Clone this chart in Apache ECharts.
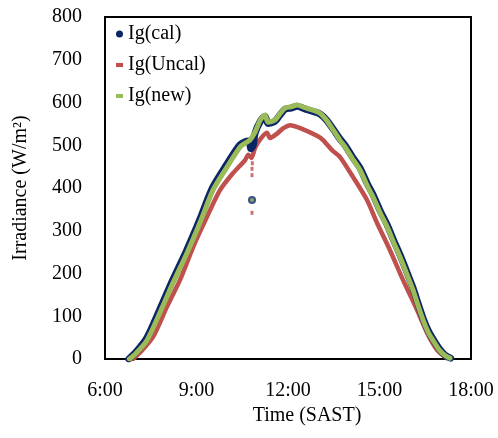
<!DOCTYPE html>
<html>
<head>
<meta charset="utf-8">
<script src="https://cdn.jsdelivr.net/npm/echarts@6/dist/echarts.min.js"></script>
<style>
html,body{margin:0;padding:0;background:#fff;}
#chart{width:498px;height:438px;}
</style>
</head>
<body>
<div id="chart"></div>
<script>
// Time in decimal hours (SAST), irradiance in W/m2
var calTimes = [6.78,7.00,7.36,7.78,8.21,8.67,9.09,9.52,9.98,10.41,10.58,10.72,10.78,10.86,10.92,11.10,11.25,11.34,11.57,11.75,11.90,12.10,12.30,12.55,12.82,13.05,13.25,13.48,13.70,13.87,14.10,14.36,14.60,14.79,15.00,15.25,15.45,15.67,15.90,16.10,16.25,16.43,16.60,16.75,16.95,17.15,17.33];
var calValues = [0,15,48,113,183,253,323,400,454,500,508,510,492,500,528,557,568,551,556,572,584,587,591,585,579,573,560,538,515,500,474,447,410,384,350,314,280,244,203,166,133,95,66,47,25,9,2];

var uncalTimes = [6.92,7.15,7.57,8.03,8.46,8.89,9.34,9.77,10.20,10.59,10.70,10.80,10.92,11.10,11.31,11.41,11.60,11.85,12.07,12.40,12.95,13.15,13.45,13.70,14.13,14.59,14.92,15.34,15.77,16.23,16.56,16.89,17.21];
var uncalValues = [0,15,51,122,185,262,332,395,435,465,478,470,494,515,529,517,525,540,547,540,522,512,488,473,426,372,318,255,185,115,61,21,2];

var newTimes = [6.80,7.00,7.38,7.80,8.23,8.69,9.11,9.54,10.00,10.43,10.60,10.75,10.92,11.10,11.25,11.34,11.57,11.75,11.90,12.10,12.30,12.55,12.82,13.05,13.25,13.48,13.70,13.87,14.10,14.36,14.60,14.79,15.00,15.25,15.45,15.67,15.90,16.10,16.25,16.43,16.60,16.75,16.95,17.15,17.31];
var newValues = [0,12,44,108,178,248,318,395,449,496,505,512,531,560,571,554,559,575,587,590,594,588,582,575,560,536,512,496,470,442,405,379,345,309,275,239,198,161,128,91,62,44,22,8,2];

// isolated readings around 10:49
var calDotTimes = [10.82];
var calDotValues = [372];
var newDotTimes = [10.82];
var newDotValues = [372];
var uncalDotTimes = [10.82,10.82,10.82,10.83];
var uncalDotValues = [342,430,445,458];

var xTicks = [6,9,12,15,18];
var seriesNames = ['Ig(cal)','Ig(Uncal)','Ig(new)'];

function pairs(t, v){ return t.map(function(x,i){ return [x, v[i]]; }); }

var NAVY = '#0B2566', RED = '#C0504D', GREEN = '#9BBB59';
var FONT = 'Liberation Serif';

var chart = echarts.init(document.getElementById('chart'), null, {renderer:'canvas'});
chart.setOption({
  animation: false,
  backgroundColor: '#fff',
  grid: {left:105, right:27, top:17, bottom:79, show:true, borderColor:'#000', borderWidth:2, backgroundColor:'transparent'},
  legend: {
    orient: 'vertical', left: 111, top: 19, itemGap: 11,
    itemWidth: 7, itemHeight: 7,
    textStyle: {fontFamily: FONT, fontSize: 20, color: '#000'},
    data: [
      {name: seriesNames[0], icon: 'circle', itemStyle: {color: NAVY}},
      {name: seriesNames[1], icon: 'path://M0,0h12v7h-12z', itemStyle: {color: RED}},
      {name: seriesNames[2], icon: 'path://M0,0h12v7h-12z', itemStyle: {color: GREEN}}
    ]
  },
  xAxis: {
    type: 'value', min: xTicks[0], max: xTicks[xTicks.length-1], interval: 3,
    name: 'Time (SAST)', nameLocation: 'middle', nameGap: 43,
    nameTextStyle: {fontFamily: FONT, fontSize: 20, color: '#000', padding: [0,0,0,38]},
    axisLine: {show: true, lineStyle: {color: '#000', width: 2}},
    axisTick: {show: false},
    splitLine: {show: false},
    axisLabel: {fontFamily: FONT, fontSize: 20, color: '#000', margin: 22,
      formatter: function(v){ return v + ':00'; }}
  },
  yAxis: {
    type: 'value', min: 0, max: 800, interval: 100,
    name: 'Irradiance (W/m\u00B2)', nameLocation: 'middle', nameGap: 74,
    nameTextStyle: {fontFamily: FONT, fontSize: 20, color: '#000'},
    axisLine: {show: true, lineStyle: {color: '#000', width: 2}},
    axisTick: {show: false},
    splitLine: {show: false},
    axisLabel: {fontFamily: FONT, fontSize: 20, color: '#000', margin: 23}
  },
  series: [
    {name: seriesNames[1], type: 'line', data: pairs(uncalTimes, uncalValues), showSymbol: false, smooth: 0.25,
      lineStyle: {color: RED, width: 4.5, join: 'round', cap: 'round'}, itemStyle: {color: RED}, z: 2},
    {name: seriesNames[0], type: 'line', data: pairs(calTimes, calValues), showSymbol: false, smooth: 0.25,
      lineStyle: {color: NAVY, width: 7, join: 'round', cap: 'round'}, itemStyle: {color: NAVY}, z: 3},
    {name: seriesNames[2], type: 'line', data: pairs(newTimes, newValues), showSymbol: false, smooth: 0.25,
      lineStyle: {color: GREEN, width: 5, join: 'round', cap: 'round'}, itemStyle: {color: GREEN}, z: 4},
    {name: seriesNames[1], type: 'scatter', data: pairs(uncalDotTimes, uncalDotValues), symbol: 'rect', symbolSize: [3,4],
      itemStyle: {color: RED}, z: 2},
    {name: seriesNames[0], type: 'scatter', data: pairs(calDotTimes, calDotValues), symbol: 'circle', symbolSize: 8,
      itemStyle: {color: NAVY}, z: 3},
    {name: seriesNames[2], type: 'scatter', data: pairs(newDotTimes, newDotValues), symbol: 'circle', symbolSize: 4,
      itemStyle: {color: GREEN}, z: 4}
  ]
});
</script>
</body>
</html>
